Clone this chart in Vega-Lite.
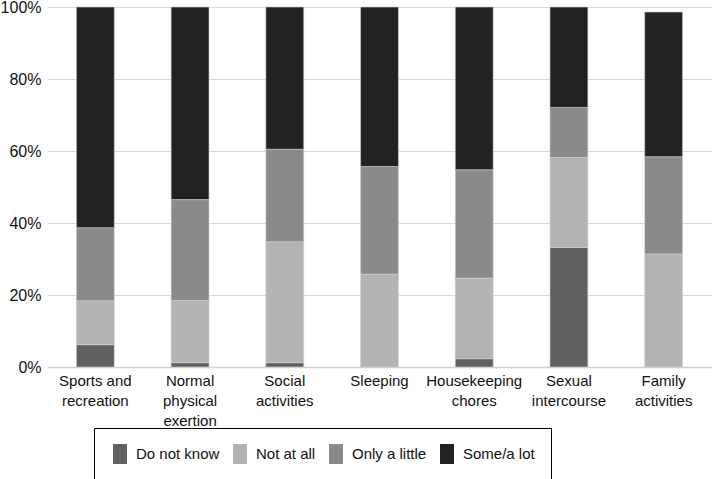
{
  "$schema": "https://vega.github.io/schema/vega-lite/v6.json",
  "autosize": "none",
  "width": 663,
  "height": 360,
  "padding": {"left": 48, "top": 7, "right": 1, "bottom": 112},
  "background": "white",
  "data": {"values": [
    {"activity": "Sports and|recreation", "response": "Do not know", "pct": 6.2},
    {"activity": "Sports and|recreation", "response": "Not at all", "pct": 12.2},
    {"activity": "Sports and|recreation", "response": "Only a little", "pct": 20.3},
    {"activity": "Sports and|recreation", "response": "Some/a lot", "pct": 61.3},
    {"activity": "Normal|physical|exertion", "response": "Do not know", "pct": 1.2},
    {"activity": "Normal|physical|exertion", "response": "Not at all", "pct": 17.3},
    {"activity": "Normal|physical|exertion", "response": "Only a little", "pct": 28.0},
    {"activity": "Normal|physical|exertion", "response": "Some/a lot", "pct": 53.5},
    {"activity": "Social|activities", "response": "Do not know", "pct": 1.2},
    {"activity": "Social|activities", "response": "Not at all", "pct": 33.6},
    {"activity": "Social|activities", "response": "Only a little", "pct": 25.7},
    {"activity": "Social|activities", "response": "Some/a lot", "pct": 39.5},
    {"activity": "Sleeping", "response": "Do not know", "pct": 0},
    {"activity": "Sleeping", "response": "Not at all", "pct": 25.8},
    {"activity": "Sleeping", "response": "Only a little", "pct": 29.9},
    {"activity": "Sleeping", "response": "Some/a lot", "pct": 44.3},
    {"activity": "Housekeeping|chores", "response": "Do not know", "pct": 2.3},
    {"activity": "Housekeeping|chores", "response": "Not at all", "pct": 22.4},
    {"activity": "Housekeeping|chores", "response": "Only a little", "pct": 30.1},
    {"activity": "Housekeeping|chores", "response": "Some/a lot", "pct": 45.2},
    {"activity": "Sexual|intercourse", "response": "Do not know", "pct": 33.2},
    {"activity": "Sexual|intercourse", "response": "Not at all", "pct": 25.0},
    {"activity": "Sexual|intercourse", "response": "Only a little", "pct": 13.9},
    {"activity": "Sexual|intercourse", "response": "Some/a lot", "pct": 27.9},
    {"activity": "Family|activities", "response": "Do not know", "pct": 0},
    {"activity": "Family|activities", "response": "Not at all", "pct": 31.4},
    {"activity": "Family|activities", "response": "Only a little", "pct": 27.0},
    {"activity": "Family|activities", "response": "Some/a lot", "pct": 40.2}
  ]},
  "mark": {"type": "bar", "stroke": "#d0d0d0", "strokeWidth": 0.6},
  "encoding": {
    "x": {
      "field": "activity", "type": "nominal", "sort": null,
      "scale": {"paddingInner": 0.6, "paddingOuter": 0.3},
      "axis": {
        "title": null, "labelAngle": 0, "ticks": false, "domain": true,
        "domainColor": "#d0d0d0", "domainWidth": 1.5,
        "labelExpr": "split(datum.label, '|')",
        "labelFont": "Liberation Sans", "labelFontSize": 15, "labelColor": "#111111",
        "labelPadding": 6, "labelLineHeight": 20, "labelLimit": 200
      }
    },
    "y": {
      "field": "pct", "type": "quantitative", "stack": "zero",
      "scale": {"domain": [0, 100], "nice": false},
      "axis": {
        "title": null, "values": [0, 20, 40, 60, 80, 100],
        "labelExpr": "datum.value + '%'",
        "ticks": false, "domain": false,
        "grid": true, "gridColor": "#dadada", "gridWidth": 1.2,
        "labelFont": "Liberation Sans", "labelFontSize": 16, "labelColor": "#111111",
        "labelPadding": 7
      }
    },
    "order": {"field": "response", "sort": "ascending"},
    "color": {
      "field": "response", "type": "nominal",
      "scale": {
        "domain": ["Do not know", "Not at all", "Only a little", "Some/a lot"],
        "range": ["#606060", "#b3b3b3", "#8a8a8a", "#222222"]
      },
      "legend": {
        "title": null, "orient": "none", "direction": "horizontal",
        "legendX": 46, "legendY": 421,
        "strokeColor": "#000000", "padding": 16,
        "symbolType": "M-0.7,-1H0.7V1H-0.7Z", "symbolSize": 400,
        "symbolStrokeWidth": 0,
        "labelFont": "Liberation Sans", "labelFontSize": 15, "labelColor": "#111111",
        "columnPadding": 10, "labelOffset": 6
      }
    }
  },
  "config": {"view": {"stroke": null}}
}
